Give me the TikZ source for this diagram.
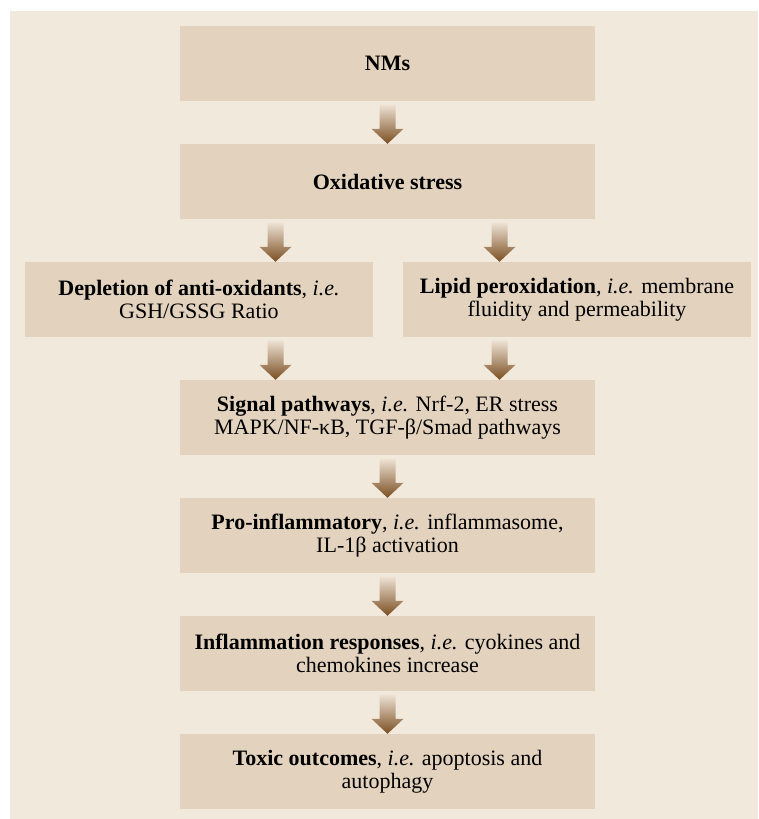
\documentclass[tikz,border=0pt]{standalone}
\usepackage{fontspec}
\setmainfont{Liberation Serif}
\usepackage{tikz}
\usetikzlibrary{calc}

\definecolor{pagebg}{HTML}{F2E9DD}
\definecolor{boxfill}{HTML}{E3D3BE}
\definecolor{arrowtop}{HTML}{EFE4D6}
\definecolor{arrowbrown}{HTML}{7B4E22}

% shaded block arrow: top point (#1), tip at the height of (#2)
\newcommand{\brownarrow}[2]{%
  \shade[top color=arrowtop, bottom color=arrowbrown]
    let \p1=(#1), \p2=(#2) in
    (\x1-8pt,\y1-3pt) -- (\x1+8pt,\y1-3pt) -- (\x1+8pt,\y2+15pt) -- (\x1+16pt,\y2+15pt)
    -- (\x1,\y2) -- (\x1-16pt,\y2+15pt) -- (\x1-8pt,\y2+15pt) -- cycle;
}

\begin{document}
\begin{tikzpicture}[x=1pt, y=-1pt,
  stepbox/.style={rectangle, fill=boxfill, minimum width=415pt, minimum height=75pt,
    align=center, inner sep=0pt, font=\fontsize{22}{23.5}\selectfont},
  sidebox/.style={stepbox, minimum width=348pt}]
  % Page
  \useasboundingbox (0,0) rectangle (758,819);
  \fill[pagebg] (10,11) rectangle (758,819);

  % Boxes
  \node[stepbox] (nms) at (387.5,63.5) {\textbf{NMs}};
  \node[stepbox] (ox) at (387.5,181.5) {\textbf{Oxidative stress}};
  \node[sidebox] (depl) at (199,299.5) {\textbf{Depletion of anti-oxidants}, \textit{i.e.}\\GSH/GSSG Ratio};
  \node[sidebox] (lipid) at (577,299.5) {\textbf{Lipid peroxidation}, \textit{i.e.} membrane\\fluidity and permeability};
  \node[stepbox] (sig) at (387.5,417.5) {\textbf{Signal pathways}, \textit{i.e.} Nrf-2, ER stress\\MAPK/NF-κB, TGF-β/Smad pathways};
  \node[stepbox] (pro) at (387.5,535.5) {\textbf{Pro-inflammatory}, \textit{i.e.} inflammasome,\\IL-1β activation};
  \node[stepbox] (infl) at (387.5,653.5) {\textbf{Inflammation responses}, \textit{i.e.} cyokines and\\chemokines increase};
  \node[stepbox] (tox) at (387.5,771.5) {\textbf{Toxic outcomes}, \textit{i.e.} apoptosis and\\autophagy};

  % Arrows
  \brownarrow{nms.south}{ox.north}
  \brownarrow{$(ox.south)+(-112,0)$}{depl.north}
  \brownarrow{$(ox.south)+(112,0)$}{lipid.north}
  \brownarrow{$(sig.north)+(-112,-43)$}{sig.north}
  \brownarrow{$(sig.north)+(112,-43)$}{sig.north}
  \brownarrow{sig.south}{pro.north}
  \brownarrow{pro.south}{infl.north}
  \brownarrow{infl.south}{tox.north}
\end{tikzpicture}
\end{document}
